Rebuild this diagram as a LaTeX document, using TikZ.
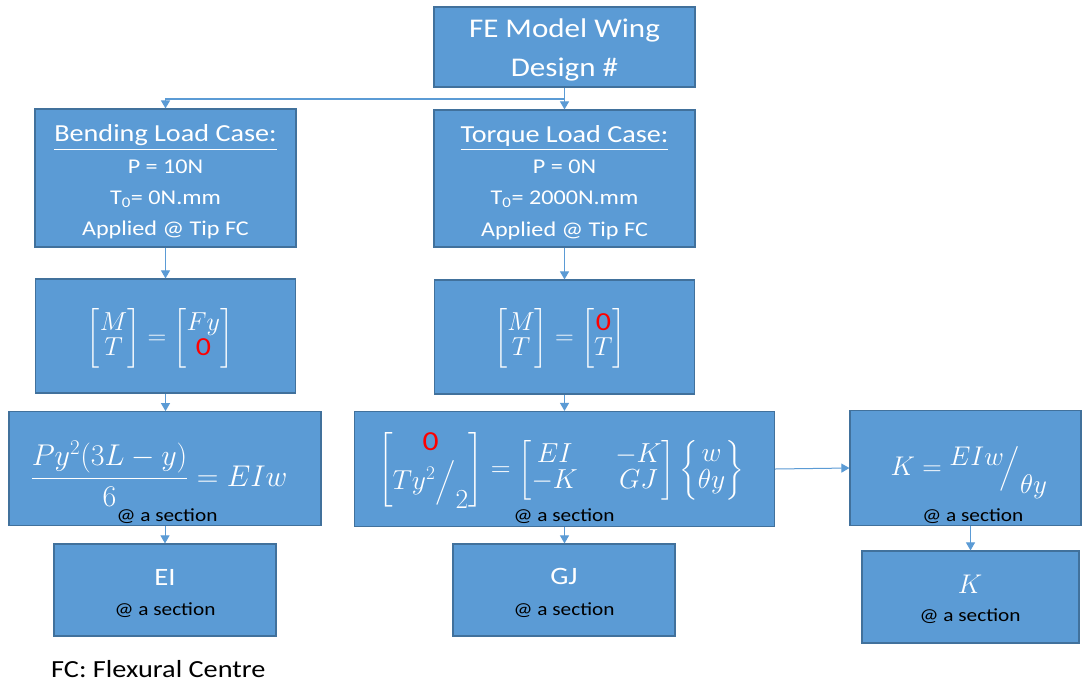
\RequirePackage{fix-cm}
\documentclass[tikz,border=0pt]{standalone}
\usepackage{amsmath}
\usepackage[no-math]{fontspec}
\setmainfont{Carlito}[FakeStretch=1.15]
\usetikzlibrary{arrows.meta}
\definecolor{boxfill}{HTML}{5B9BD5}
\definecolor{boxedge}{HTML}{41719C}
\definecolor{linec}{HTML}{5B9BD5}
\definecolor{zred}{HTML}{FF0000}
\newcommand{\rz}{\textcolor{zred}{\textnormal{0}}}
\begin{document}
\begin{tikzpicture}[x=1pt,y=1pt,
  box/.style={draw=boxedge, line width=1.2pt, fill=boxfill, inner sep=0pt},
  wt/.style={text=white, inner sep=0pt, anchor=base},
  bt/.style={text=black, inner sep=0pt, anchor=base},
  mt/.style={text=white, inner sep=0pt},
  fs/.style={font=\fontsize{#1}{#1}\selectfont\renewcommand{\arraystretch}{0.95}},
  conn/.style={draw=linec, line width=1pt, -{Triangle[width=9pt,length=8pt]}}
]
\fill[white] (0,0) rectangle (1083,-683);
\useasboundingbox (0,0) rectangle (1083,-683);

% boxes
\node[box, minimum width=261pt, minimum height=80pt]  (title) at (564.5,-47) {};
\node[box, minimum width=261pt, minimum height=138pt] (bend)  at (165.5,-178) {};
\node[box, minimum width=261pt, minimum height=137pt] (torq)  at (564.5,-178.5) {};
\node[box, minimum width=260pt, minimum height=114pt] (mtb)   at (165.5,-336) {};
\node[box, minimum width=260pt, minimum height=114pt] (mtt)   at (564.5,-337) {};
\node[box, minimum width=312pt, minimum height=114pt] (py)    at (165,-468.7) {};
\node[box, minimum width=420pt, minimum height=115pt] (teq)   at (564.5,-469) {};
\node[box, minimum width=231pt, minimum height=115pt] (keq)   at (965.5,-468) {};
\node[box, minimum width=222pt, minimum height=92pt]  (ei)    at (165,-590) {};
\node[box, minimum width=222pt, minimum height=92pt]  (gj)    at (564,-590) {};
\node[box, minimum width=217pt, minimum height=92pt]  (kb)    at (970.5,-597) {};

% title text
\node[wt, fs=27] (t1) at (564.5,-37.3) {FE Model Wing};
\node[wt, fs=27] (t2) at (564.5,-76) {Design \#};

% bending text
\node[wt, fs=24.5] (b1) at (165.5,-141.7) {\underline{Bending Load Case:}};
\node[wt, fs=21] (b2) at (165.5,-173.3) {P = 10N};
\node[wt, fs=21] (b3) at (165.5,-204.3) {T\textsubscript{0}= 0N.mm};
\node[wt, fs=21] (b4) at (165.5,-235.7) {Applied @ Tip FC};

% torque text
\node[wt, fs=24.5] (q1) at (564.5,-142) {\underline{Torque Load Case:}};
\node[wt, fs=21] (q2) at (564.5,-173.6) {P = 0N};
\node[wt, fs=21] (q3) at (564.5,-204.6) {T\textsubscript{0}= 2000N.mm};
\node[wt, fs=21] (q4) at (564.5,-236) {Applied @ Tip FC};

% equations
\node[mt, fs=26] (e1) at (160,-338) {$\begin{bmatrix}M\\T\end{bmatrix}=\begin{bmatrix}Fy\\ \rz\end{bmatrix}$};
\node[mt, fs=26] (e2) at (560,-338) {$\begin{bmatrix}M\\T\end{bmatrix}=\begin{bmatrix}\rz\\ T\end{bmatrix}$};
\node[mt, fs=30] (e3) at (159,-474) {$\dfrac{Py^2(3L-y)}{6}=EIw$};
\node[mt, fs=27.5] (e4) at (561,-470) {$\left[\begin{matrix}\rz\\ Ty^2\Big/_{\textstyle 2}\end{matrix}\right]=\begin{bmatrix}EI & \quad -K\\ -K & \quad GJ\end{bmatrix}\begin{Bmatrix}w\\ \theta y\end{Bmatrix}$};
\node[mt, fs=27] (e5) at (969,-471.5) {$K={}^{\textstyle EIw}\!\Big/_{\textstyle\theta y}$};

% @ a section labels
\node[bt, fs=18.5] (s1) at (167,-521.7) {@ a section};
\node[bt, fs=18.5] (s2) at (564,-521.7) {@ a section};
\node[bt, fs=18.5] (s3) at (972.8,-521.7) {@ a section};
\node[bt, fs=18.5] (s4) at (165,-615) {@ a section};
\node[bt, fs=18.5] (s5) at (564,-615) {@ a section};
\node[bt, fs=18.5] (s6) at (970,-621.7) {@ a section};

% result texts
\node[wt, fs=25] (r1) at (165,-585) {EI};
\node[wt, fs=25] (r2) at (564,-584) {GJ};
\node[wt, fs=27] (r3) at (970,-593.3) {$K$};

% footnote
\node[bt, fs=24.6, anchor=base west] (fc) at (51,-677) {FC: Flexural Centre};

% connectors
\coordinate (split) at (564.5,-99);
\draw[conn] (title.south) -- (torq.north);
\draw[conn, line width=1.4pt] (split) -| (bend.north);
\draw[conn] (bend.south) -- (bend.south |- mtb.north);
\draw[conn] (torq.south) -- (torq.south |- mtt.north);
\draw[conn] (mtb.south) -- (mtb.south |- py.north);
\draw[conn] (mtt.south) -- (mtt.south |- teq.north);
\draw[conn] (py.south) -- (py.south |- ei.north);
\draw[conn] (teq.south) -- (teq.south |- gj.north);
\draw[conn] (teq.east) -- (keq.west);
\draw[conn] (kb.north |- keq.south) -- (kb.north);
\end{tikzpicture}
\end{document}
